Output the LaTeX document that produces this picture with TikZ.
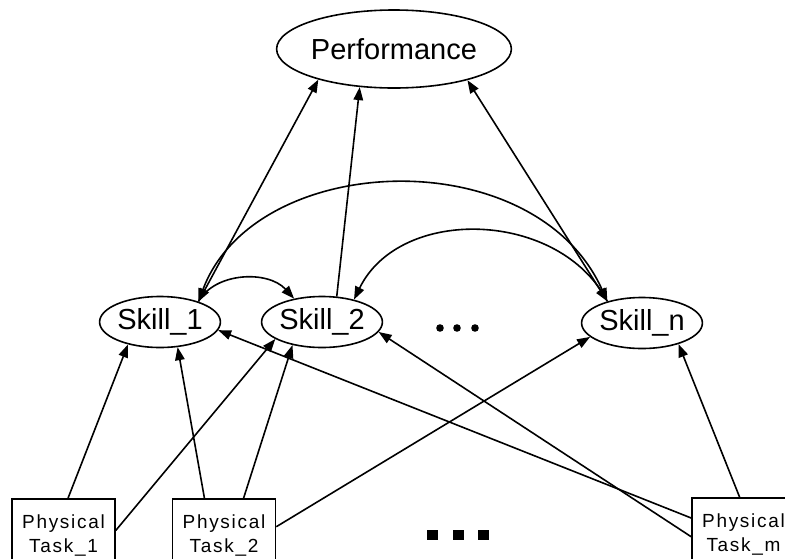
\documentclass[tikz,border=0pt]{standalone}
\usepackage{fontspec}
\setmainfont{Liberation Sans}
\newfontfamily\taskfont[LetterSpace=9]{Liberation Sans}
\usetikzlibrary{arrows.meta,shapes.geometric}
\begin{document}
\begin{tikzpicture}[x=1pt,y=-1pt,
  every node/.style={inner sep=0pt},
  var/.style={draw, ellipse, line width=1.6pt, minimum width=106pt, minimum height=51pt,
    font=\fontsize{29}{30}\selectfont},
  task/.style={draw, rectangle, line width=1.6pt, minimum width=103pt, minimum height=72pt,
    align=center, font=\taskfont\fontsize{19}{24}\selectfont},
  tip/.tip={Triangle[length=13pt,width=9.5pt]},
  edge/.style={line width=1.6pt, -tip},
  bi/.style={line width=1.6pt, tip-tip}]
\useasboundingbox (0,0) rectangle (785,558);
\clip (0,0) rectangle (785,558);

\node[var, minimum width=208pt, minimum height=78pt] (perf) at (394,49) {Performance};
\node[var] (s1) at (160,322) {Skill\_1};
\node[var] (s2) at (322,322) {Skill\_2};
\node[var] (sn) at (642,323) {Skill\_n};
\node[task] (t1) at (63.5,535) {Physical\\Task\_1};
\node[task] (t2) at (224,535) {Physical\\Task\_2};
\node[task] (tm) at (743.5,534) {Physical\\Task\_m};

% upper edges
\draw[bi] (s1.28) -- (perf.202);
\draw[edge] (s2.60) -- (perf.228);
\draw[bi] (sn.148) -- (perf.337);
\draw[bi] (s1.28) .. controls (255,150) and (535,140) .. (sn.148);
\draw[edge] (s1.28) .. controls (215,272) and (268,270) .. (s2.140);
\draw[edge] (sn.148) .. controls (560,210) and (400,205) .. (s2.35);

% lower edges
\draw[edge] (t1.83) -- (s1.215);
\draw[edge] (t2.118) -- (s1.305);
\draw[edge] (t1.5) -- (s2.200);
\draw[edge] (t2.62) -- (s2.218);
\draw[edge] (t2.9) -- (sn.195);
\draw[edge] (tm.163) -- (s1.352);
\draw[edge] (tm.183) -- (s2.350);
\draw[edge] (tm.96) -- (sn.330);

% ellipses
\foreach \x in {440,457,475} \fill (\x,328) circle (3.8pt);
\foreach \x in {427,453,478} \fill (\x,530) rectangle ++(11,10);
\end{tikzpicture}
\end{document}
